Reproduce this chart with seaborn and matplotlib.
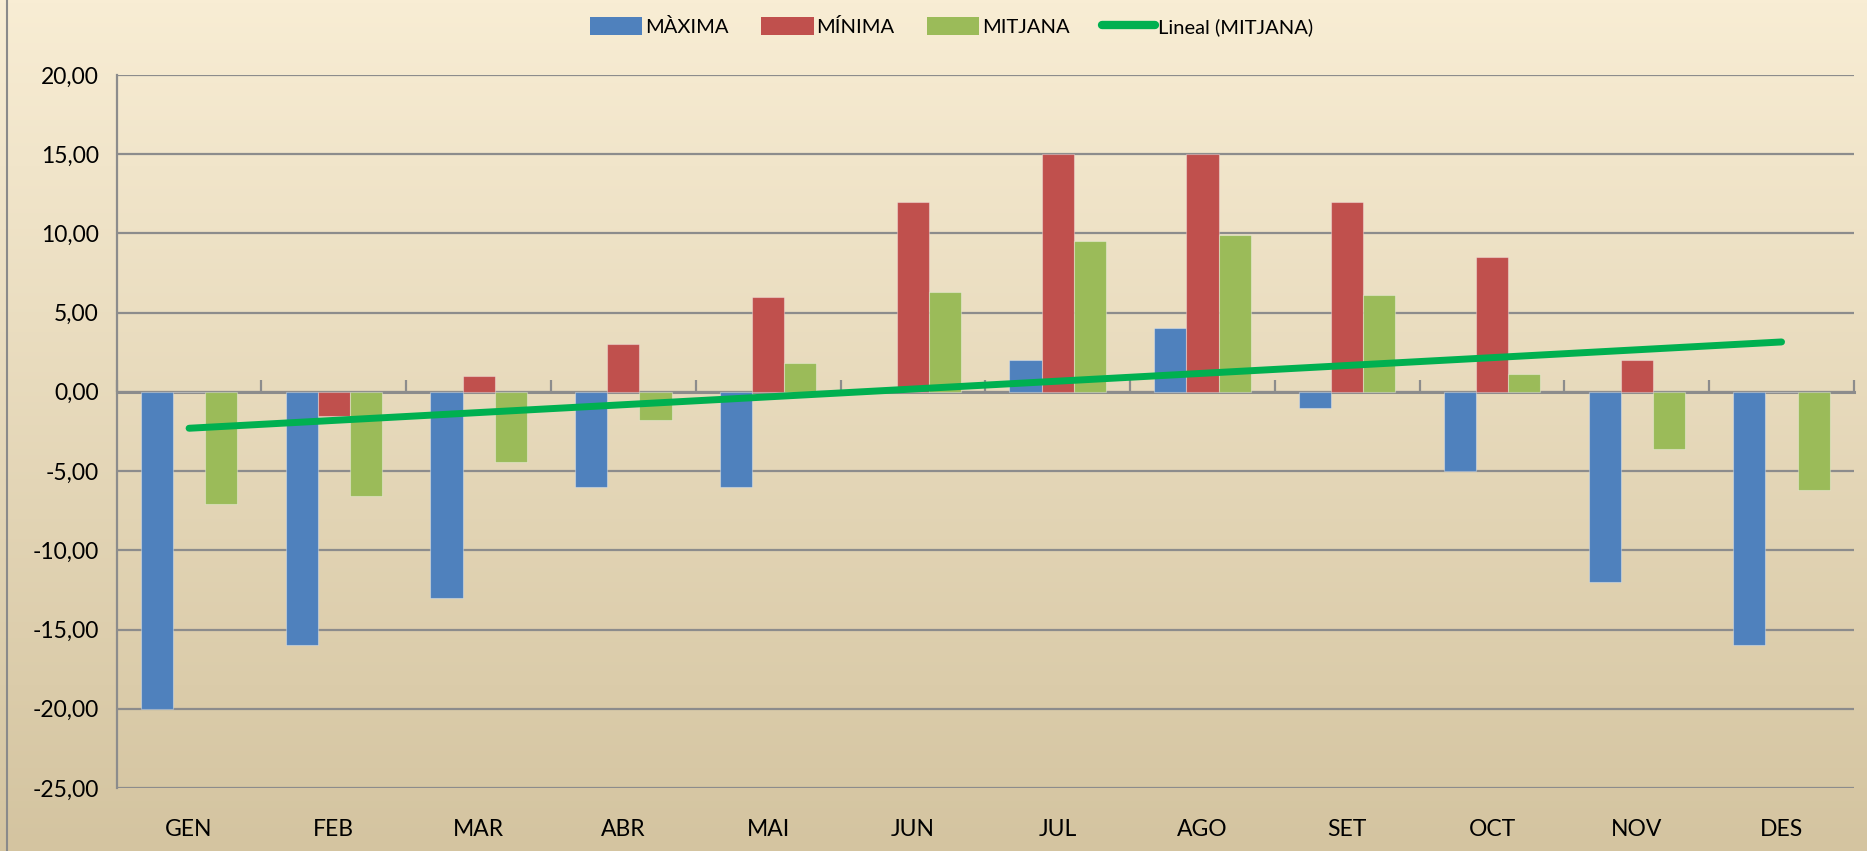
import numpy as np
import pandas as pd
import matplotlib
matplotlib.use("Agg")
import matplotlib.pyplot as plt
from matplotlib.lines import Line2D
from matplotlib.patches import Patch
import seaborn as sns

# ---- data ----
months = ["GEN", "FEB", "MAR", "ABR", "MAI", "JUN", "JUL", "AGO", "SET", "OCT", "NOV", "DES"]
series_names = ["MÀXIMA", "MÍNIMA", "MITJANA"]
maxima = [-20, -16, -13, -6, -6, 0, 2, 4, -1, -5, -12, -16]
minima = [0, -1.5, 1, 3, 6, 12, 15, 15, 12, 8.5, 2, 0]
mitjana = [-7.05, -6.6, -4.4, -1.75, 1.8, 6.3, 9.5, 9.9, 6.1, 1.1, -3.6, -6.2]
trend_label = "Lineal (MITJANA)"
y_ticks = [20, 15, 10, 5, 0, -5, -10, -15, -20, -25]

colors = ["#4F81BD", "#C0504D", "#9BBB59"]
trend_color = "#00B050"

df = pd.DataFrame({
    "mes": months * 3,
    "serie": [series_names[0]] * 12 + [series_names[1]] * 12 + [series_names[2]] * 12,
    "valor": maxima + minima + mitjana,
})

sns.set_theme(style="white")
plt.rcParams["font.family"] = ["Lato", "DejaVu Sans"]

fig = plt.figure(figsize=(18.67, 8.51), dpi=100)

# background gradient
bg = fig.add_axes([0, 0, 1, 1], zorder=-10)
grad = np.linspace(0, 1, 256)[:, None]
top = np.array([248, 237, 212]) / 255.0
bot = np.array([212, 196, 160]) / 255.0
img = top[None, None, :] * (1 - grad[:, :, None]) + bot[None, None, :] * grad[:, :, None]
bg.imshow(img, aspect="auto", extent=[0, 1, 0, 1], origin="upper")
bg.set_axis_off()
fig.add_artist(Line2D([0.0035, 0.0035], [0, 1], color="#8a8a8a", lw=1.5, transform=fig.transFigure))

ax = fig.add_axes([0.0625, 0.074, 0.9305, 0.838])
ax.patch.set_alpha(0)

sns.barplot(data=df, x="mes", y="valor", hue="serie", order=months, hue_order=series_names,
            palette=colors, width=2 / 3, ax=ax, saturation=1, errorbar=None,
            edgecolor=(1, 1, 1, 0.35), linewidth=0.8, zorder=2, legend=False)

# linear trend of MITJANA
xs = np.arange(len(months))
coef = np.polyfit(xs, mitjana, 1)
trend = np.polyval(coef, xs)
ax.plot(xs, trend, color=trend_color, lw=5, solid_capstyle="round", zorder=4)

ax.set_xlim(-0.5, len(months) - 0.5)
ax.set_ylim(-25, 20)
ax.set_yticks(y_ticks)
ax.set_yticklabels([f"{v:.2f}".replace(".", ",") for v in y_ticks])
ax.set_xlabel("")
ax.set_ylabel("")
ax.grid(axis="y", color="#8c8c8c", lw=1.6, zorder=0)
ax.set_axisbelow(True)
for s in ["top", "right", "bottom"]:
    ax.spines[s].set_visible(False)
ax.spines["left"].set_color("#8c8c8c")
ax.spines["left"].set_linewidth(1.6)
ax.tick_params(axis="y", direction="out", length=7, width=1.6, color="#8c8c8c",
               labelsize=16.5, pad=6, labelcolor="#000000")
ax.tick_params(axis="x", length=0, labelsize=16.5, pad=22, labelcolor="#000000")

# zero axis with category-boundary ticks pointing up
ax2 = ax.twiny()
ax2.set_xlim(ax.get_xlim())
ax2.patch.set_alpha(0)
ax2.spines["top"].set_position(("data", 0))
for s in ["bottom", "left", "right"]:
    ax2.spines[s].set_visible(False)
ax2.spines["top"].set_color("#8c8c8c")
ax2.spines["top"].set_linewidth(2.2)
ax2.set_xticks(np.arange(-0.5, len(months), 1.0))
ax2.tick_params(axis="x", top=True, bottom=False, labeltop=False, labelbottom=False,
                direction="out", length=9, width=1.6, color="#8c8c8c")
ax.set_zorder(1)
ax2.set_zorder(0.5)

handles = [Patch(facecolor=c, edgecolor="none") for c in colors]
handles.append(Line2D([0], [0], color=trend_color, lw=6, solid_capstyle="round"))
fig.legend(handles, series_names + [trend_label], loc="center", bbox_to_anchor=(0.5096, 0.969),
           ncol=4, frameon=False, fontsize=14.5, handlelength=2.6, handleheight=1.0,
           handletextpad=0.15, columnspacing=1.6, labelcolor="#000000")

fig.savefig("out.png", dpi=100)
